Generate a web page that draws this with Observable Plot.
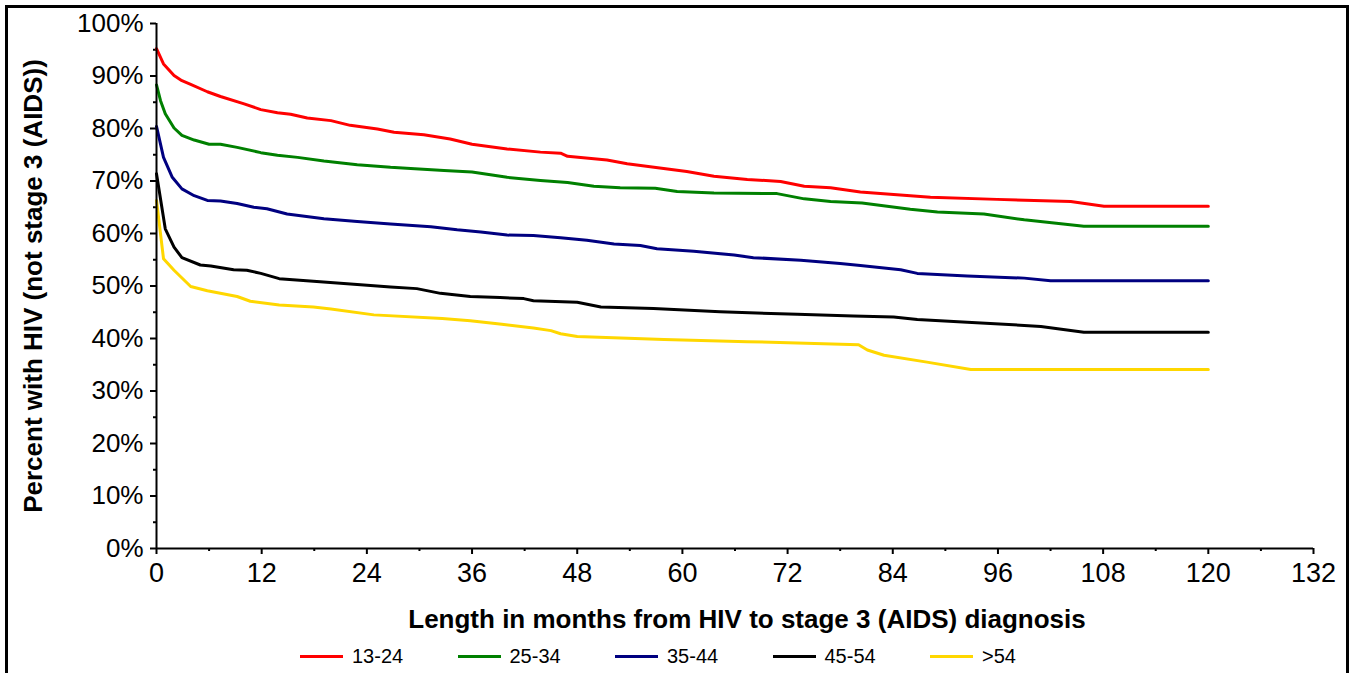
<!DOCTYPE html>
<html>
<head>
<meta charset="utf-8">
<script src="https://cdn.jsdelivr.net/npm/d3@7"></script>
<script src="https://cdn.jsdelivr.net/npm/@observablehq/plot@0.6"></script>
<style>
  html, body { margin: 0; padding: 0; background: #fff; width: 1350px; height: 673px; overflow: hidden; }
  #frame { position: absolute; left: 5px; top: 5px; width: 1344px; height: 720px; border: 3px solid #000; box-sizing: border-box; pointer-events: none; }
  #chart { position: absolute; left: 0; top: 0; }
  #legend { position: absolute; left: 300px; top: 645px; display: flex; font-family: "Liberation Sans", Arial, sans-serif; font-size: 20px; color: #000; }
  .item { display: flex; align-items: center; width: 157.5px; }
  .swatch { width: 43px; height: 3px; margin-right: 9px; }
</style>
</head>
<body>
<div id="chart"></div>
<div id="legend"></div>
<div id="frame"></div>
<script>
// ---- data ----
const groups = ["13-24", "25-34", "35-44", "45-54", ">54"];
const colors = ["#ff0000", "#008000", "#000080", "#000000", "#ffd700"];

const months1324 = [0, 0.8, 2.0, 2.9, 3.9, 5.8, 7.3, 10, 11.9, 13.8, 15.3, 17.2, 19.9, 22.1, 25.2, 27.1, 30.5, 33.5, 36, 40, 43.8, 46.1, 46.9, 51.4, 53.7, 58.3, 60.5, 63.6, 67.4, 71.2, 73.9, 76.9, 80.3, 86, 88.3, 95.9, 104.3, 108.1, 120];
const pct1324    = [95.2, 92.3, 90.1, 89.1, 88.4, 87.0, 86.1, 84.7, 83.6, 83.0, 82.7, 82.0, 81.5, 80.6, 79.9, 79.3, 78.8, 78.0, 77.0, 76.1, 75.5, 75.3, 74.7, 74.0, 73.3, 72.3, 71.8, 70.9, 70.3, 69.9, 69.0, 68.7, 67.9, 67.2, 66.9, 66.5, 66.1, 65.2, 65.2];

const months2534 = [0, 0.46, 1.0, 2.0, 2.9, 4.3, 6.0, 7.3, 9.2, 11.9, 13.8, 16.1, 19.1, 22.9, 26.7, 29, 32.8, 36, 40, 43.8, 46.9, 49.9, 52.9, 56.9, 59.4, 63.6, 70.8, 73.9, 76.9, 80.5, 86, 89.1, 94.4, 99, 105.8, 120];
const pct2534    = [88.3, 85.3, 82.8, 80.1, 78.7, 77.8, 77.0, 77.0, 76.4, 75.4, 74.9, 74.5, 73.8, 73.1, 72.6, 72.4, 72.0, 71.7, 70.7, 70.1, 69.7, 69.0, 68.7, 68.6, 68.0, 67.7, 67.6, 66.6, 66.1, 65.8, 64.6, 64.1, 63.7, 62.6, 61.4, 61.4];

const months3544 = [0, 0.8, 1.8, 2.9, 4.3, 5.8, 7.3, 9.2, 11.1, 12.6, 14.9, 19.1, 22.9, 26.7, 31.3, 34.3, 37, 40, 43, 46.1, 49.1, 52.2, 55.2, 57.1, 61.3, 65.9, 68.1, 73.5, 78, 80.3, 84.9, 86.8, 92.5, 99, 102, 120];
const pct3544    = [80.4, 74.5, 70.7, 68.5, 67.2, 66.3, 66.2, 65.7, 65.0, 64.7, 63.7, 62.8, 62.3, 61.8, 61.3, 60.7, 60.3, 59.7, 59.6, 59.2, 58.7, 58.0, 57.7, 57.1, 56.6, 55.9, 55.4, 54.9, 54.3, 53.9, 53.1, 52.4, 51.9, 51.5, 51.0, 51.0];

const months4554 = [0, 1.0, 2.0, 2.9, 5.0, 6.2, 8.8, 10.3, 11.9, 14.0, 17.9, 22.9, 26.7, 29.7, 32.4, 35.8, 39.2, 41.9, 43, 48, 50.7, 56.7, 64.3, 73.1, 79.5, 84.1, 86.8, 92.5, 100.9, 105.8, 120];
const pct4554    = [71.4, 60.9, 57.4, 55.4, 54.0, 53.8, 53.1, 53.0, 52.4, 51.4, 50.9, 50.3, 49.8, 49.5, 48.6, 48.0, 47.8, 47.6, 47.2, 46.9, 46.0, 45.7, 45.1, 44.6, 44.3, 44.1, 43.6, 43.1, 42.3, 41.2, 41.2];

const months54 = [0, 0.8, 2.0, 3.9, 5.8, 9.2, 10.7, 14.0, 17.9, 19.9, 24.8, 32.6, 35.8, 39.4, 43, 45, 46.1, 48, 57.9, 67.4, 80.1, 81.1, 83, 87.9, 92.9, 120];
const pct54    = [66.3, 55.2, 53.0, 49.9, 49.1, 48.0, 47.1, 46.4, 46.0, 45.6, 44.5, 43.8, 43.4, 42.7, 42.0, 41.5, 40.9, 40.4, 39.8, 39.4, 38.8, 37.8, 36.8, 35.5, 34.1, 34.1];

const xTicks = [0, 12, 24, 36, 48, 60, 72, 84, 96, 108, 120, 132];
const xMinor = [6, 18, 30, 42, 54, 66, 78, 90, 102, 114, 126];
const yTicks = [0, 10, 20, 30, 40, 50, 60, 70, 80, 90, 100];
const yMinor = [5, 15, 25, 35, 45, 55, 65, 75, 85, 95];

const xTitle = "Length in months from HIV to stage 3 (AIDS) diagnosis";
const yTitle = "Percent with HIV (not stage 3 (AIDS))";

// ---- build table ----
const seriesMonths = [months1324, months2534, months3544, months4554, months54];
const seriesPct = [pct1324, pct2534, pct3544, pct4554, pct54];
const rows = [];
groups.forEach((g, i) => {
  seriesMonths[i].forEach((m, j) => rows.push({group: g, month: m, pct: seriesPct[i][j]}));
});

const font = "'Liberation Sans', Arial, sans-serif";

const chart = Plot.plot({
  width: 1350,
  height: 640,
  marginLeft: 156,
  marginRight: 37,
  marginTop: 23,
  marginBottom: 92,
  style: {fontFamily: font, color: "#000", background: "transparent", overflow: "visible"},
  x: {domain: [0, 132], label: null},
  y: {domain: [0, 100], label: null},
  color: {domain: groups, range: colors},
  marks: [
    Plot.axisY(yTicks, {tickSize: 6, tickPadding: 7, tickFormat: d => d + "%", fontSize: 26, strokeWidth: 2, label: null}),
    Plot.axisY(yMinor, {tickSize: 3, tickFormat: () => "", strokeWidth: 2, label: null}),
    Plot.axisX(xTicks, {tickSize: 6, tickPadding: 8, fontSize: 27, strokeWidth: 2, label: null}),
    Plot.axisX(xMinor, {tickSize: 3, tickFormat: () => "", strokeWidth: 2, label: null}),
    Plot.line(rows, {x: "month", y: "pct", z: "group", stroke: "group", strokeWidth: 3, strokeLinejoin: "round"}),
    Plot.ruleX([0], {stroke: "#000", strokeWidth: 2}),
    Plot.ruleY([0], {stroke: "#000", strokeWidth: 2}),
    Plot.text([xTitle], {frameAnchor: "bottom", dx: 12, dy: 79, fontSize: 26, fontWeight: "bold", fill: "#000"}),
    Plot.text([yTitle], {frameAnchor: "left", textAnchor: "middle", dx: -123, rotate: -90, fontSize: 26, fontWeight: "bold", fill: "#000"})
  ]
});
document.getElementById("chart").appendChild(chart);

// ---- legend ----
const legend = d3.select("#legend");
groups.forEach((g, i) => {
  const it = legend.append("div").attr("class", "item");
  it.append("div").attr("class", "swatch").style("background", colors[i]);
  it.append("span").text(g);
});
</script>
</body>
</html>
